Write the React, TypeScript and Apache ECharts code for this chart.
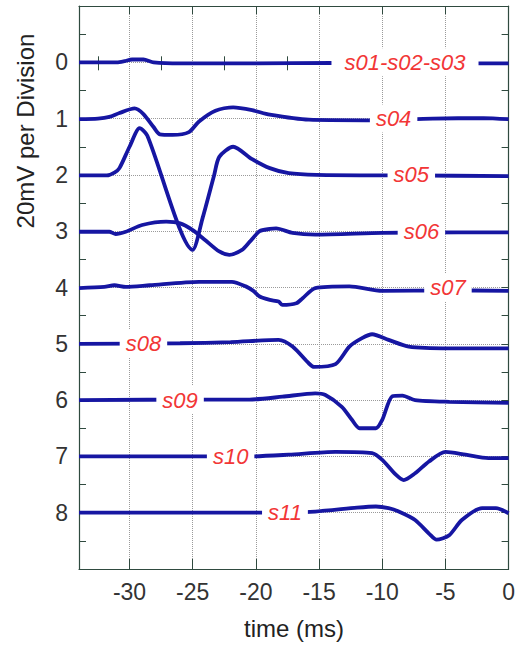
import React, { useEffect, useRef } from "react";
import * as echarts from "echarts";

// ---- data (values in divisions; 1 division = 20 mV) ----
const xMajorTicks = [-30, -25, -20, -15, -10, -5, 0];
const xMinorTicks = [-32.5, -27.5, -22.5, -17.5, -12.5, -7.5, -2.5];
const yLevels = [0, 1, 2, 3, 4, 5, 6, 7, 8];

const s010203: number[][] = [[-34, 0.0], [-31, 0.0], [-30.4, -0.02], [-29.8, -0.05], [-28.9, -0.05], [-28.1, 0.0], [-26, 0.02], [-20, 0.02], [-14, 0.01], [-8, 0.02], [-3, 0.02], [0, 0.02]];
const s04: number[][] = [[-34, 1.01], [-32.5, 1.0], [-31.6, 0.97], [-30.8, 0.9], [-29.6, 0.82], [-28.9, 0.92], [-28.1, 1.15], [-27.6, 1.28], [-26.6, 1.29], [-25.3, 1.24], [-24.5, 1.05], [-23.2, 0.86], [-21.8, 0.8], [-20.3, 0.85], [-18.9, 0.93], [-15.8, 1.02], [-11.3, 1.03], [-6, 1.0], [-2, 0.99], [0, 1.01]];
const s05: number[][] = [[-34, 2.01], [-31.8, 2.01], [-31.2, 1.96], [-30.8, 1.88], [-30, 1.5], [-29.2, 1.17], [-28.6, 1.3], [-25, 3.33], [-24.2, 2.75], [-23.3, 2.0], [-22.9, 1.68], [-21.8, 1.5], [-20.3, 1.72], [-18.9, 1.88], [-17.4, 1.97], [-15.2, 2.0], [-8, 2.01], [0, 2.02]];
const s06: number[][] = [[-34, 3.01], [-31.6, 3.01], [-31.1, 3.05], [-30.3, 3.01], [-29, 2.89], [-27.1, 2.83], [-26, 2.86], [-25, 2.98], [-24, 3.16], [-22.9, 3.36], [-22.1, 3.42], [-21.1, 3.33], [-20.5, 3.19], [-19.7, 3.0], [-18.9, 2.96], [-18.4, 2.95], [-17.1, 3.03], [-15.3, 3.06], [-10, 3.03], [-4, 3.02], [0, 3.02]];
const s07: number[][] = [[-34, 4.01], [-32, 3.99], [-31.2, 3.96], [-30.3, 3.99], [-28.4, 3.96], [-24.5, 3.9], [-21.9, 3.9], [-20.8, 3.98], [-20.2, 4.06], [-19.7, 4.16], [-18.9, 4.22], [-18.2, 4.25], [-17.9, 4.31], [-16.8, 4.28], [-16.3, 4.19], [-15.3, 4.01], [-12.6, 3.98], [-10, 4.06], [-5, 4.05], [0, 4.06]];
const s08: number[][] = [[-34, 5.0], [-26, 4.99], [-22, 4.97], [-18.2, 4.93], [-17.1, 5.05], [-15.8, 5.35], [-15.4, 5.41], [-13.7, 5.36], [-12.6, 5.05], [-11.6, 4.9], [-10.8, 4.83], [-9.5, 4.93], [-7.9, 5.05], [-4.7, 5.08], [0, 5.08]];
const s09: number[][] = [[-34, 6.0], [-24, 5.99], [-20.5, 5.99], [-17.9, 5.94], [-15.3, 5.88], [-14.5, 5.91], [-13.2, 6.12], [-12.4, 6.35], [-11.8, 6.5], [-10.5, 6.5], [-10, 6.35], [-9.2, 5.93], [-8.4, 5.92], [-7.4, 6.0], [-4.7, 6.03], [0, 6.05]];
const s10: number[][] = [[-34, 7.0], [-20.5, 7.0], [-17.4, 6.97], [-13.7, 6.92], [-10.8, 6.94], [-10, 7.06], [-8.9, 7.33], [-8.3, 7.42], [-7.4, 7.3], [-6.3, 7.09], [-5.0, 6.92], [-3.4, 6.97], [-1.6, 7.03], [0, 7.03]];
const s11: number[][] = [[-34, 8.0], [-19, 8.0], [-15.3, 7.98], [-12, 7.91], [-10.5, 7.89], [-9.5, 7.92], [-8.7, 7.98], [-7.4, 8.13], [-6.3, 8.37], [-5.7, 8.48], [-4.7, 8.4], [-3.7, 8.13], [-2.1, 7.92], [-1.0, 7.92], [0, 8.01]];

const traces = [s010203, s04, s05, s06, s07, s08, s09, s10, s11];
const labelNames = ["s01-s02-s03", "s04", "s05", "s06", "s07", "s08", "s09", "s10", "s11"];
const labelTimes = [-8.2, -9.1, -7.7, -6.9, -4.8, -28.9, -26.0, -22.0, -17.7];

// ---- styles ----
const FONT = "Liberation Sans, Arial, sans-serif";
const FRAME = "#2f4a3f";
const TRACE = "#1616a2";
const RED = "#f23636";
const GRIDC = "#9a9a9a";

export default function App() {
  const ref = useRef<HTMLDivElement>(null);
  useEffect(() => {
    const chart = echarts.init(ref.current!, null, { renderer: "svg" });
    const mirrorX = (pos: string, ticks: number[], len: number) => ({
      type: "value",
      position: pos,
      min: -34,
      max: 0,
      axisLine: { show: false },
      axisTick: { show: true, inside: true, length: len, customValues: ticks, lineStyle: { color: FRAME } },
      axisLabel: { show: false },
      splitLine: { show: false },
    });
    const option: any = {
      animation: false,
      backgroundColor: "#fff",
      grid: { left: 79, right: 8, top: 6, bottom: 77, containLabel: false },
      xAxis: [
        {
          type: "value",
          position: "bottom",
          min: -34,
          max: 0,
          axisLine: { show: true, onZero: false, lineStyle: { color: FRAME, width: 1.2 } },
          axisTick: { show: true, inside: true, length: 10, customValues: xMajorTicks, lineStyle: { color: FRAME } },
          axisLabel: { show: true, customValues: xMajorTicks, margin: 11, fontSize: 23, color: "#333", fontFamily: FONT },
          splitLine: { show: true, lineStyle: { type: "dotted", color: GRIDC, width: 1 } },
        },
        mirrorX("bottom", xMinorTicks, 6),
        { ...mirrorX("top", xMajorTicks, 8), axisLine: { show: true, onZero: false, lineStyle: { color: FRAME, width: 1.2 } } },
        mirrorX("top", xMinorTicks, 8),
      ],
      yAxis: [
        {
          type: "value",
          inverse: true,
          min: -1,
          max: 9,
          interval: 1,
          position: "left",
          axisLine: { show: true, onZero: false, lineStyle: { color: FRAME, width: 1.2 } },
          axisTick: { show: true, inside: true, length: 7, lineStyle: { color: FRAME } },
          minorTick: { show: true, splitNumber: 2, length: 7, lineStyle: { color: FRAME } },
          axisLabel: { show: true, customValues: yLevels, margin: 11, fontSize: 23, color: "#333", fontFamily: FONT },
          splitLine: { show: true, lineStyle: { type: "dotted", color: GRIDC, width: 1 } },
        },
        {
          type: "value",
          inverse: true,
          min: -1,
          max: 9,
          interval: 1,
          position: "right",
          axisLine: { show: true, onZero: false, lineStyle: { color: FRAME, width: 1.2 } },
          axisTick: { show: true, inside: true, length: 7, lineStyle: { color: FRAME } },
          minorTick: { show: true, splitNumber: 2, length: 7, lineStyle: { color: FRAME } },
          axisLabel: { show: false },
          splitLine: { show: false },
        },
      ],
      series: [
        ...traces.map((d, i) => ({
          type: "line",
          name: labelNames[i],
          data: d,
          xAxisIndex: 0,
          yAxisIndex: 0,
          showSymbol: false,
          symbol: "none",
          smooth: 0.25,
          lineStyle: { color: TRACE, width: 3.8 },
          z: 3,
          silent: true,
        })),
        {
          type: "scatter",
          xAxisIndex: 0,
          yAxisIndex: 0,
          symbolSize: 1,
          itemStyle: { color: "rgba(255,255,255,0)", opacity: 1 },
          z: 10,
          silent: true,
          data: labelNames.map((n, i) => ({
            name: n,
            value: [labelTimes[i], yLevels[i]],
            label: i === 0 ? { padding: [3, 13] } : undefined,
          })),
          label: {
            show: true,
            position: "inside",
            formatter: "{b}",
            color: RED,
            fontStyle: "italic",
            fontSize: 22,
            fontFamily: FONT,
            backgroundColor: "#ffffff",
            textBorderWidth: 0,
            opacity: 1,
            padding: [3, 6],
          },
        },
      ],
      graphic: [
        {
          type: "text",
          x: 25,
          y: 131,
          rotation: Math.PI / 2,
          style: { text: "20mV per Division", fontSize: 24, fill: "#222", fontFamily: FONT, align: "center", verticalAlign: "middle" },
        },
        {
          type: "text",
          x: 294,
          y: 628,
          style: { text: "time (ms)", fontSize: 24, fill: "#222", fontFamily: FONT, align: "center", verticalAlign: "middle" },
        },
      ],
    };
    chart.setOption(option);
    return () => chart.dispose();
  }, []);
  return <div ref={ref} style={{ position: "absolute", left: 0, top: 0, width: 518, height: 646 }} />;
}
